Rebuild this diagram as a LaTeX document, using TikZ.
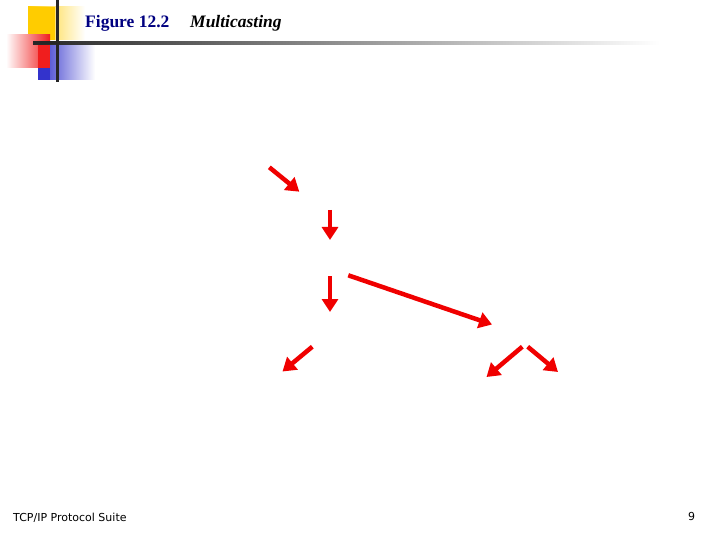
\documentclass[tikz,border=0pt]{standalone}
\usepackage{fontspec}
\setmainfont{Liberation Serif}
\newfontfamily\footfont{DejaVu Sans}
\usetikzlibrary{arrows.meta}
\definecolor{navy}{RGB}{0,0,128}
\definecolor{arrred}{RGB}{240,0,0}
\definecolor{gold}{RGB}{255,204,0}
\definecolor{sqblue}{RGB}{51,51,204}
\definecolor{sqred}{RGB}{240,30,30}
\tikzset{
  redarrow/.style={draw=arrred, line width=4.5pt, -{Triangle[length=13pt,width=16pt]}},
  foot/.style={inner sep=0pt, anchor=base west, font=\footfont\fontsize{11}{13}\selectfont},
}
\begin{document}
\begin{tikzpicture}[x=1pt,y=-1pt]
\useasboundingbox (0,0) rectangle (720,540);
% decoration
\shade[left color=gold, right color=white] (28,7) rectangle (85,40);
\fill[gold] (28,7) rectangle (55,40);
\shade[left color=white, right color=sqred] (6,35) rectangle (50,68);
\shade[left color=sqblue, right color=white] (38,43) rectangle (95,80);
\fill[sqblue] (38,43) rectangle (50,80);
\fill[sqred] (38,43) rectangle (50,68);
\shade[left color=black!85, right color=white] (33,41.5) rectangle (660,44.5);
\fill[black!85] (33,41.5) rectangle (60,44.5);
\fill[black!85] (56,0) rectangle (58.5,82);
% title
\node[inner sep=0pt, anchor=base west, text=navy, font=\bfseries\fontsize{17.5}{20}\selectfont] (fig) at (85,28) {Figure 12.2};
\node[inner sep=0pt, anchor=base west, font=\bfseries\itshape\fontsize{17.5}{20}\selectfont] (title) at (190,28) {Multicasting};
% arrows
\coordinate (a1s) at (269.3,167.3); \coordinate (a1e) at (299.3,191.7);
\coordinate (a2s) at (330,210);     \coordinate (a2e) at (330,240);
\coordinate (a3s) at (330,276);     \coordinate (a3e) at (330,312);
\coordinate (a4s) at (348.3,275.3); \coordinate (a4e) at (492,324.5);
\coordinate (a5s) at (312.3,346.7); \coordinate (a5e) at (282.5,371.5);
\coordinate (a6s) at (522.3,346.7); \coordinate (a6e) at (486.5,377);
\coordinate (a7s) at (527.7,346.7); \coordinate (a7e) at (558,372);
\draw[redarrow] (a1s) -- (a1e);
\draw[redarrow] (a2s) -- (a2e);
\draw[redarrow] (a3s) -- (a3e);
\draw[redarrow] (a4s) -- (a4e);
\draw[redarrow] (a5s) -- (a5e);
\draw[redarrow] (a6s) -- (a6e);
\draw[redarrow] (a7s) -- (a7e);
% footer
\node[foot] (suite) at (13,521) {TCP/IP Protocol Suite};
\node[foot] (page) at (688,520) {9};
\end{tikzpicture}
\end{document}
